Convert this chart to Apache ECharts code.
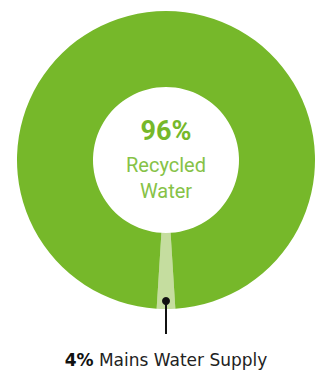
<!DOCTYPE html>
<html>
<head>
<meta charset="utf-8">
<script src="https://cdn.jsdelivr.net/npm/echarts@6/dist/echarts.min.js"></script>
<style>
  html, body { margin: 0; padding: 0; background: #fff; }
  #chart { width: 316px; height: 373px; }
</style>
</head>
<body>
<div id="chart"></div>
<script>
// slices as drawn (the small wedge is about 7 degrees wide)
var names = ['Mains Water Supply', 'Recycled Water'];
var shares = [2, 98];
var labels = ['4%', '96%'];
var colors = ['#c5dd9f', '#76b82a'];

var cx = 166, cy = 160, rIn = 73, rOut = 149;

(function() {
    var chart = echarts.init(document.getElementById('chart'), null, { renderer: 'svg' });
    var font = 'Roboto, "Open Sans", sans-serif';
    var font2 = '"DejaVu Sans", sans-serif';

    // small wedge centred at the bottom
    var startAngle = -90 + shares[0] / 100 * 360 / 2;
    var dotR = rOut - 8;

    chart.setOption({
        animation: false,
        series: [{
            type: 'pie',
            center: [cx, cy],
            radius: [rIn, rOut],
            startAngle: startAngle,
            clockwise: true,
            silent: true,
            labelLine: { show: false },
            data: names.map(function(n, i) {
                return {
                    name: n, value: shares[i],
                    itemStyle: { color: colors[i] },
                    label: i === 1 ? {
                        show: true, position: 'center', offset: [0, -3],
                        formatter: '{a|' + labels[1] + '}\n{b|Recycled}\n{b|Water}',
                        rich: {
                            a: { fontFamily: font, fontSize: 27, fontWeight: 'bold', color: '#76b82a', lineHeight: 42 },
                            b: { fontFamily: font, fontSize: 20, color: '#86c247', lineHeight: 26 }
                        }
                    } : { show: false }
                };
            })
        }],
        graphic: [
            { type: 'line', z: 100, shape: { x1: cx, y1: cy + dotR, x2: cx, y2: cy + 174 }, style: { stroke: '#111', lineWidth: 2 } },
            { type: 'circle', z: 101, shape: { cx: cx, cy: cy + dotR, r: 4 }, style: { fill: '#111' } },
            {
                type: 'text', z: 100, x: cx, y: 360,
                style: {
                    text: '{b|' + labels[0] + '} {n|' + names[0] + '}',
                    align: 'center', verticalAlign: 'middle',
                    fontFamily: font2, fontSize: 17,
                    rich: {
                        b: { fontFamily: font2, fontSize: 17, fontWeight: 'bold', fill: '#111' },
                        n: { fontFamily: font2, fontSize: 17, fill: '#222' }
                    }
                }
            }
        ]
    });
    window.addEventListener('resize', function() { chart.resize(); });
})();
</script>
</body>
</html>
